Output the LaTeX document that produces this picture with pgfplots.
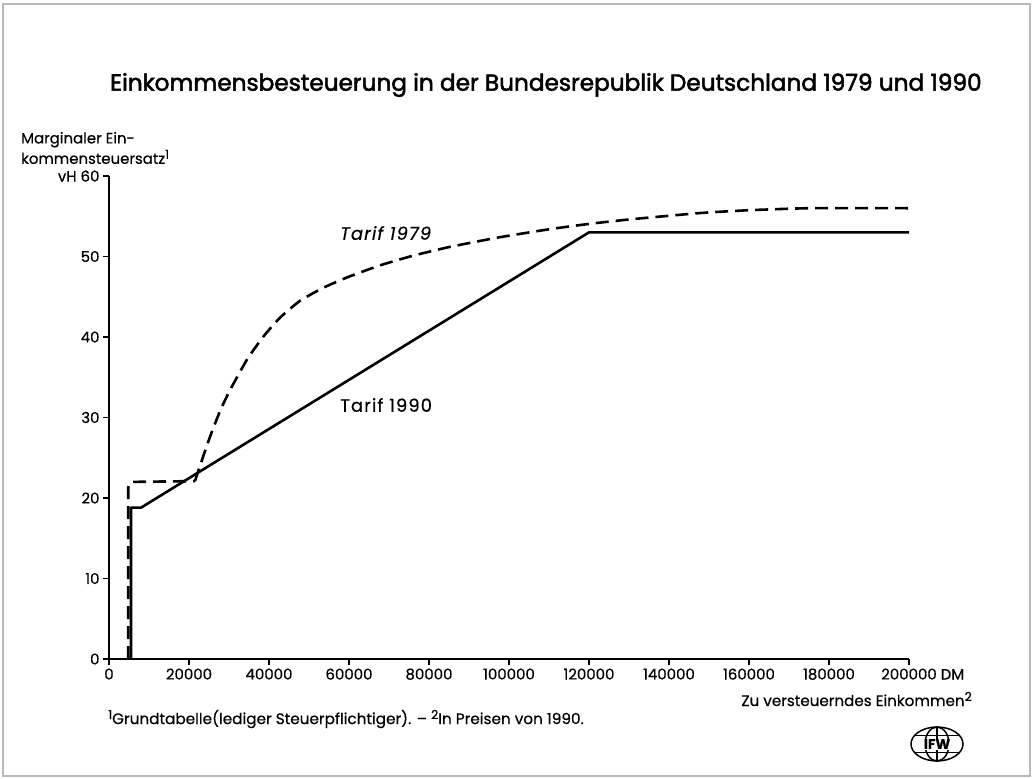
\documentclass[border=0pt]{standalone}
\usepackage{pgfplots}
\pgfplotsset{compat=1.18}
\usepackage{fontspec}
\setmainfont{Poppins}[FakeBold=0.5]
\newfontfamily\titlefont{Poppins}[FakeBold=2.2]
\newcommand{\sups}[1]{\raisebox{0.6ex}{\fontsize{12.5}{12.5}\selectfont #1}}
\begin{document}
\begin{tikzpicture}
\path (0bp,0bp) rectangle (1033bp,-779bp);
\draw[gray!55, line width=1.2bp] (3bp,-4bp) rectangle (1030bp,-776bp);
\begin{axis}[
  at={(109bp,-659bp)}, anchor=south west,
  scale only axis, width=800bp, height=483bp,
  xmin=0, xmax=200000, ymin=0, ymax=60,
  scaled x ticks=false, scaled y ticks=false,
  axis lines*=left,
  axis line style={line width=1.2bp},
  tick style={line width=1.2bp, black},
  tick align=outside, major tick length=6bp,
  xtick={0,20000,40000,60000,80000,100000,120000,140000,160000,180000,200000},
  xticklabels={0,20000,40000,60000,80000,100000,120000,140000,160000,180000,200000\rlap{ DM}},
  ytick={0,10,20,30,40,50,60},
  yticklabels={0,10,20,30,40,50,\llap{vH }60},
  tick label style={font=\fontsize{15}{16}\selectfont},
  clip=false,
]
% Tarif 1990
\addplot[black, line width=2.6bp, line join=round] coordinates {
  (5500,0) (5500,18.8) (8000,18.8) (120000,53) (200000,53)
};
% Tarif 1979 (lower part)
\addplot[black, line width=2.6bp, dash pattern=on 13bp off 7bp, line join=round] coordinates {
  (4800,0) (4800,21.3) (5400,22) (21500,22.1)
};
% Tarif 1979 (progressive zone)
\addplot[black, line width=2.6bp, dash pattern=on 13bp off 7bp, smooth, tension=0.3] coordinates {
  (21500,22.1) (22750,24.0) (25250,27.6) (27750,30.8) (30250,33.4) (34500,37.2)
  (38500,40.0) (42750,42.4) (47750,44.5) (53500,46.1) (59500,47.4) (67750,48.9)
  (76000,50.1) (85250,51.2) (97750,52.4) (110250,53.4) (120000,54.05) (130000,54.6)
  (147750,55.4) (160000,55.75) (175000,56.0) (200000,56.0)
};
\end{axis}
% title
\node[anchor=west, font=\titlefont\fontsize{23.3}{26}\selectfont, inner sep=0pt] at (110bp,-85bp)
  {Einkommensbesteuerung in der Bundesrepublik Deutschland 1979 und 1990};
% y label
\node[anchor=west, align=left, font=\fontsize{15}{20.5}\selectfont, inner sep=0pt] at (21bp,-148bp)
  {Marginaler Ein-\\kommensteuersatz\sups{1}};
% x label
\node[anchor=east, font=\fontsize{15.2}{16}\selectfont, inner sep=0pt] at (972bp,-699bp)
  {Zu versteuerndes Einkommen\sups{2}};
% curve labels
\node[anchor=west, font=\itshape\fontsize{18}{20}\selectfont\addfontfeature{LetterSpace=6}, inner sep=0pt] at (340bp,-233bp) {Tarif 1979};
\node[anchor=west, font=\fontsize{18}{20}\selectfont\addfontfeature{LetterSpace=6}, inner sep=0pt] at (340bp,-405bp) {Tarif 1990};
% footnote
\node[anchor=west, font=\fontsize{15.3}{16}\selectfont, inner sep=0pt] at (108bp,-719bp)
  {\sups{1}Grundtabelle(lediger Steuerpflichtiger). -- \sups{2}In Preisen von 1990.};
% logo
\begin{scope}[shift={(937bp,-744bp)}, line width=1.5bp]
  \draw (0,0) ellipse [x radius=26bp, y radius=17bp];
  \draw (0,0) ellipse [x radius=12bp, y radius=17bp];
  \draw (0,-17bp) -- (0,17bp);
  \draw (-23bp,8.5bp) -- (23bp,8.5bp);
  \draw (-23bp,-8.5bp) -- (23bp,-8.5bp);
  \node[fill=white, inner sep=0.6pt, font=\bfseries\fontsize{14}{14}\selectfont] at (0,0) {IFW};
\end{scope}
\end{tikzpicture}
\end{document}
